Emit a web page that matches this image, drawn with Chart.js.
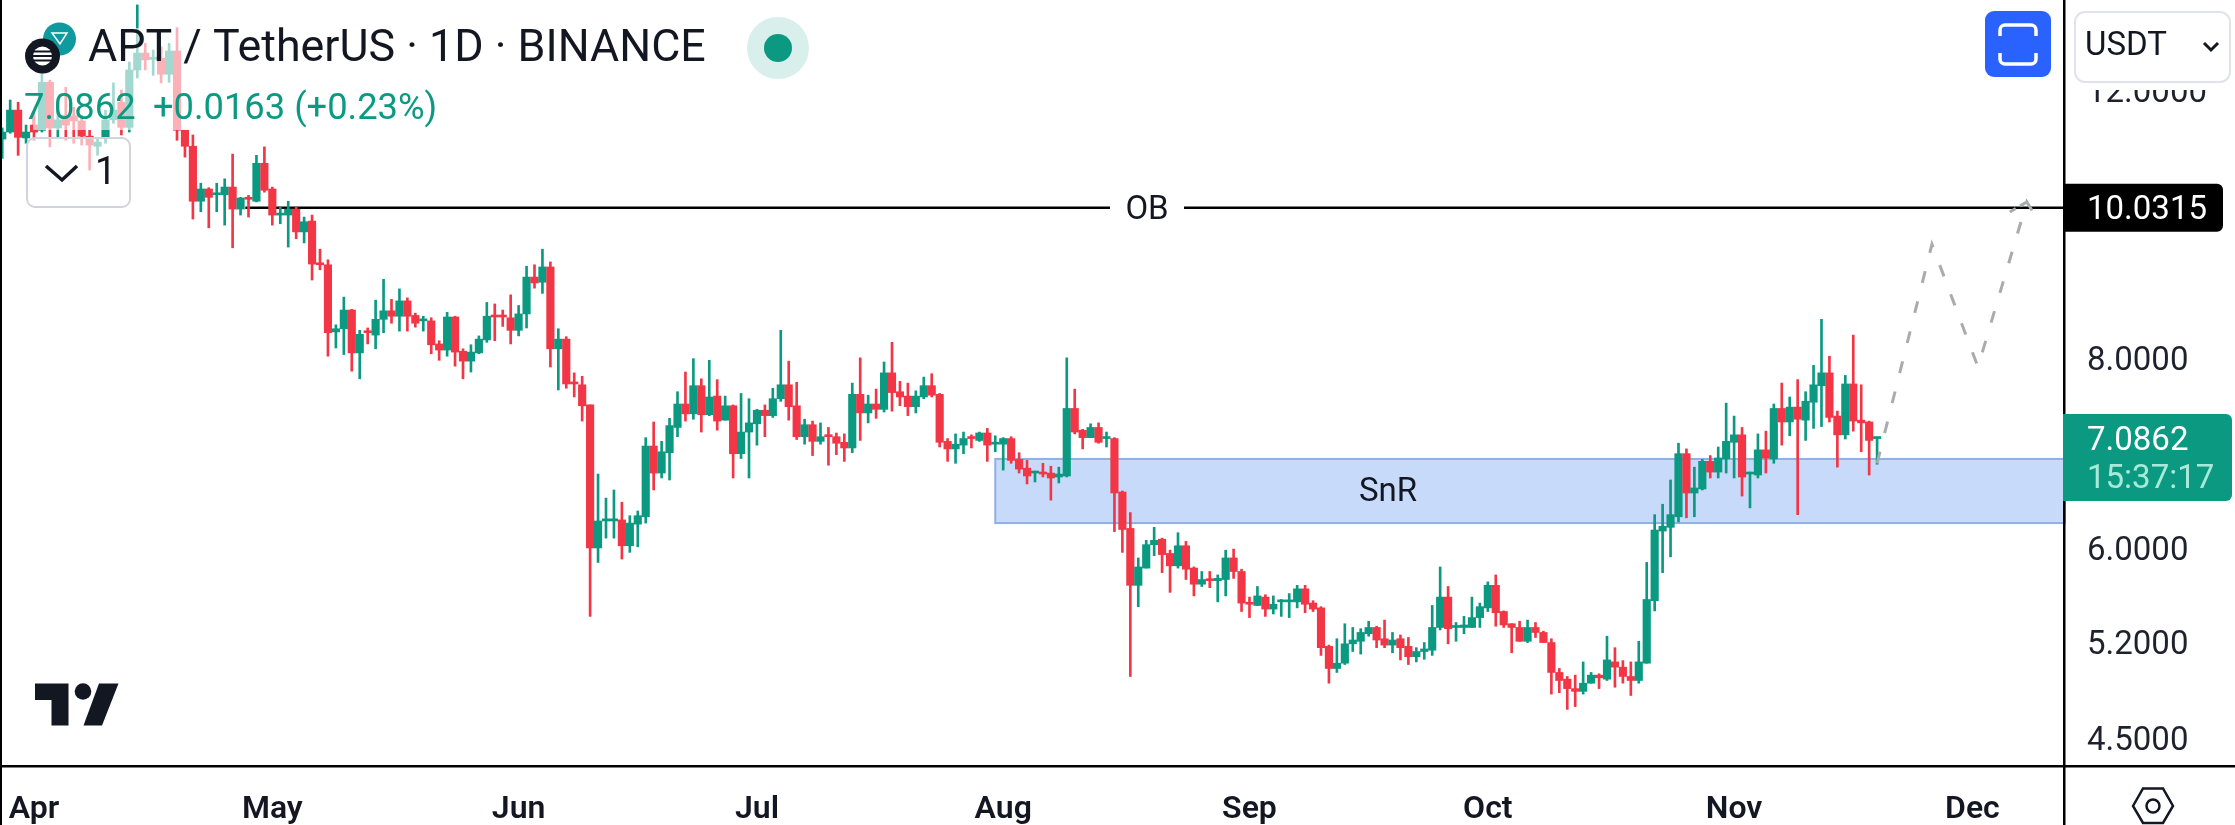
<!DOCTYPE html>
<html><head><meta charset="utf-8">
<style>html,body{margin:0;padding:0;background:#fff;overflow:hidden}canvas{display:block}</style>
<script src="https://cdn.jsdelivr.net/npm/chart.js@4/dist/chart.umd.min.js"></script>
</head><body><canvas id="c" width="2235" height="825"></canvas>
<script>
const firstDay=-4; // days relative to 1 Apr
const opens=[
11.13,11.25,11.63,11.15,11.37,11.28,12.13,11.32,11.54,11.53,
11.44,11.18,11.01,11.16,11.46,11.77,11.33,12.36,12.68,12.56,
12.58,12.28,12.72,11.28,11.01,10.13,10.32,10.23,10.23,10.35,
10.01,10.19,10.13,10.73,10.32,9.92,9.92,10.01,9.67,9.83,
9.22,9.20,8.31,8.35,8.59,8.05,8.31,8.27,8.47,8.58,
8.51,8.71,8.52,8.45,8.45,8.16,8.085,8.50,8.07,7.95,
8.05,8.21,8.52,8.51,8.49,8.33,8.54,9.03,8.96,9.17,
8.10,8.22,7.70,7.67,7.44,5.99,6.24,6.24,6.25,6.01,
6.21,6.28,6.99,6.71,6.92,7.19,7.45,7.34,7.66,7.33,
7.54,7.27,7.43,6.91,7.14,7.23,7.38,7.32,7.51,7.67,
7.43,7.09,7.22,7.04,7.10,7.09,7.03,6.97,7.56,7.35,
7.45,7.39,7.81,7.59,7.54,7.42,7.53,7.66,7.56,7.04,
6.96,7.00,7.08,7.05,7.13,7.01,7.01,7.07,6.85,6.76,
6.71,6.72,6.71,6.67,6.68,7.40,7.16,7.08,7.19,7.07,
7.07,6.52,6.17,5.66,5.81,6.02,6.07,5.94,5.83,6.01,
5.81,5.67,5.71,5.70,5.71,5.90,5.78,5.51,5.49,5.56,
5.46,5.52,5.52,5.52,5.63,5.51,5.47,5.16,4.99,5.03,
5.18,5.20,5.26,5.31,5.22,5.17,5.22,5.16,5.08,5.12,
5.13,5.31,5.56,5.31,5.31,5.31,5.39,5.47,5.66,5.44,
5.34,5.31,5.20,5.31,5.27,5.19,4.96,4.91,4.84,4.82,
4.88,4.94,4.91,5.04,5.00,4.93,4.90,5.03,5.53,6.145,
6.18,6.28,6.91,6.51,6.55,6.83,6.72,6.855,7.03,7.11,
6.70,6.69,6.95,6.855,7.40,7.25,7.415,7.27,7.47,7.66,
7.81,7.315,7.11,7.68,7.27,7.25,7.07];
const highs=[
11.32,11.81,11.77,11.37,11.58,12.30,12.17,11.63,12.04,11.68,
11.54,11.28,11.16,11.63,12.12,11.99,12.51,13.64,12.87,12.74,
12.80,12.87,13.17,11.28,11.20,10.41,10.34,10.41,10.48,10.88,
10.19,10.22,10.86,11.00,10.35,10.04,10.13,10.04,9.89,9.92,
9.42,9.27,8.40,8.76,8.60,8.33,8.36,8.72,9.00,8.73,
8.87,8.75,8.55,8.51,8.49,8.20,8.56,8.51,8.10,8.15,
8.26,8.69,8.67,8.59,8.79,8.65,9.18,9.20,9.42,9.24,
8.35,8.25,7.81,7.77,7.44,6.70,6.46,6.54,6.42,6.29,
6.335,7.08,7.25,7.04,7.29,7.59,7.82,7.98,7.74,7.96,
7.73,7.54,7.44,7.57,7.51,7.39,7.44,7.63,8.33,7.95,
7.70,7.28,7.26,7.24,7.19,7.13,7.12,7.69,7.99,7.55,
7.62,7.94,8.18,7.71,7.69,7.60,7.76,7.80,7.57,7.07,
7.12,7.14,7.11,7.14,7.18,7.10,7.08,7.09,6.92,6.84,
6.73,6.81,6.78,6.77,7.99,7.62,7.17,7.23,7.24,7.14,
7.08,6.53,6.32,5.90,6.06,6.18,6.08,5.97,6.13,6.05,
5.82,5.78,5.78,5.75,5.97,5.98,5.80,5.56,5.65,5.58,
5.57,5.54,5.59,5.66,5.66,5.53,5.48,5.17,5.22,5.34,
5.31,5.30,5.36,5.32,5.37,5.27,5.25,5.23,5.15,5.19,
5.49,5.82,5.65,5.35,5.40,5.56,5.51,5.69,5.75,5.445,
5.34,5.36,5.37,5.35,5.28,5.22,4.99,4.93,4.94,5.04,
4.96,4.95,5.24,5.15,5.05,5.04,5.20,5.86,6.30,6.40,
6.64,7.02,6.96,6.77,6.85,6.89,6.98,7.46,7.315,7.19,
6.72,7.12,7.15,7.45,7.69,7.53,7.73,7.59,7.90,8.47,
8.01,7.37,7.78,8.27,7.67,7.26,7.0862];
const lows=[
10.81,11.23,10.86,11.06,11.11,11.25,11.00,11.16,11.11,11.06,
11.03,10.62,10.86,11.06,11.40,11.20,11.25,12.21,12.36,12.26,
12.12,12.13,11.11,10.83,9.86,9.97,9.73,9.97,9.77,9.44,
9.92,9.89,10.12,10.27,9.77,9.79,9.45,9.57,9.51,8.99,
9.13,8.01,8.11,8.03,7.83,7.74,8.16,8.10,8.30,8.42,
8.32,8.32,8.37,8.32,8.04,7.96,8.01,7.89,7.74,7.82,
8.04,8.18,8.20,8.38,8.16,8.26,8.36,8.88,8.81,7.88,
7.61,7.63,7.53,7.26,5.40,5.86,6.08,6.08,5.89,5.95,
6.00,6.22,6.54,6.66,6.64,7.09,7.26,7.28,7.14,7.32,
7.16,7.27,6.66,6.86,6.66,7.00,7.09,7.30,7.48,7.27,
7.06,7.01,6.89,7.01,6.79,6.90,6.83,6.92,7.05,7.24,
7.29,7.36,7.37,7.43,7.32,7.35,7.51,7.53,6.98,6.83,
6.81,6.91,6.97,7.04,6.83,6.93,6.74,6.81,6.71,6.60,
6.62,6.67,6.44,6.61,6.67,7.12,6.96,7.08,7.02,6.98,
6.14,5.95,4.93,5.48,5.81,5.92,5.77,5.60,5.81,5.71,
5.57,5.65,5.64,5.52,5.57,5.72,5.44,5.39,5.49,5.40,
5.42,5.40,5.39,5.47,5.43,5.44,5.09,4.88,4.96,5.02,
5.12,5.10,5.24,5.15,5.15,5.11,5.055,5.02,5.04,5.06,
5.09,5.29,5.18,5.20,5.26,5.31,5.31,5.44,5.32,5.31,
5.11,5.20,5.19,5.23,5.19,4.80,4.81,4.69,4.71,4.80,
4.88,4.84,4.90,4.85,4.88,4.79,4.88,5.03,5.445,5.77,
5.91,6.23,6.27,6.28,6.54,6.66,6.66,6.71,6.66,6.48,
6.365,6.66,6.71,6.81,7.00,7.10,6.30,7.05,7.18,7.20,
7.25,6.77,7.065,7.15,6.93,6.69,6.80];
const closes=[
11.25,11.63,11.16,11.25,11.25,12.13,11.32,11.46,11.37,11.44,
11.18,11.03,11.08,11.46,11.63,11.33,12.36,12.68,12.55,12.60,
12.28,12.72,11.28,11.01,10.13,10.32,10.19,10.24,10.35,10.01,
10.18,10.16,10.73,10.30,9.92,9.93,10.01,9.67,9.82,9.21,
9.20,8.30,8.35,8.59,8.05,8.28,8.30,8.47,8.58,8.51,
8.71,8.51,8.42,8.46,8.15,8.085,8.50,8.06,7.95,8.06,
8.22,8.51,8.50,8.50,8.33,8.54,9.03,8.95,9.17,8.10,
8.22,7.68,7.68,7.43,5.99,6.24,6.26,6.26,6.01,6.22,
6.29,6.99,6.71,6.93,7.21,7.45,7.34,7.66,7.33,7.53,
7.26,7.43,6.91,7.14,7.24,7.38,7.32,7.51,7.67,7.42,
7.09,7.22,7.04,7.09,7.09,7.02,6.97,7.56,7.35,7.45,
7.39,7.81,7.58,7.53,7.42,7.54,7.66,7.55,7.03,6.96,
7.01,7.07,7.07,7.13,7.00,7.03,7.07,6.84,6.75,6.68,
6.72,6.70,6.66,6.70,7.40,7.14,7.08,7.19,7.03,7.08,
6.51,6.16,5.66,5.82,6.02,6.06,5.93,5.83,6.01,5.80,
5.67,5.71,5.70,5.72,5.90,5.78,5.51,5.50,5.57,5.46,
5.50,5.53,5.53,5.63,5.50,5.46,5.15,4.99,5.03,5.18,
5.21,5.27,5.31,5.21,5.17,5.21,5.15,5.08,5.12,5.14,
5.31,5.56,5.30,5.32,5.33,5.39,5.48,5.66,5.43,5.33,
5.31,5.20,5.31,5.27,5.19,4.96,4.90,4.84,4.82,4.88,
4.94,4.92,5.055,5.00,4.93,4.90,5.04,5.54,6.155,6.19,
6.30,6.91,6.51,6.56,6.83,6.72,6.865,7.04,7.11,6.67,
6.71,6.95,6.865,7.40,7.25,7.415,7.28,7.48,7.67,7.81,
7.30,7.11,7.68,7.26,7.24,7.05,7.0862];
const monthDays=[0,30,61,91,122,153,183,214,244];
const monthLabels=['Apr','May','Jun','Jul','Aug','Sep','Oct','Nov','Dec'];
const priceTicks=[12,8,6,5.2,4.5];
const obPrice=10.0315, lastPrice=7.0862;
const obStartDay=26.6, obLabelDay=140.1;
const snrTop=6.855, snrBottom=6.22, snrStartDay=121;
const pathDays=[232,238.9,244.7,250.85,252.1];
const pathPrices=[6.81,9.49,7.88,10.12,9.875];
const headDays=[248.7,250.85];
const headPrices=[9.965,10.12];

const UP='#0b9981', DOWN='#f23645', INK='#131722', DASH='#aaabaf';
const bodies=opens.map((o,i)=>({x:i+firstDay,y:[o,closes[i]]}));
const wicks=lows.map((l,i)=>({x:i+firstDay,y:[l,highs[i]]}));
const colors=opens.map((o,i)=>closes[i]>=o?UP:DOWN);
const F='Roboto, sans-serif';

function rr(ctx,x,y,w,h,r){ctx.beginPath();ctx.roundRect(x,y,w,h,r);}
const deco={id:'deco',
 beforeDatasetsDraw(ch){
  const {ctx,scales:{x,y},chartArea:a}=ch;ctx.save();
  const l=x.getPixelForValue(snrStartDay),t=y.getPixelForValue(snrTop),b=y.getPixelForValue(snrBottom);
  ctx.fillStyle='#c8dafa';ctx.fillRect(l,t,a.right-l,b-t);
  ctx.strokeStyle='#8fb0e2';ctx.lineWidth=2;ctx.strokeRect(l,t,a.right-l+2,b-t);
  ctx.restore();
 },
 beforeDraw(ch){
  ch.scales.y.getLabelItems().forEach(it=>{if(!it._moved){it.options.translation[1]+=4.8;it._moved=true;}});
 },
 afterDatasetsDraw(ch){
  const {ctx,scales:{x,y},chartArea:a}=ch;ctx.save();
  const ly=y.getPixelForValue(obPrice),lx=x.getPixelForValue(obLabelDay);
  ctx.fillStyle='#fff';ctx.fillRect(lx-37,ly-16,74,32);
  ctx.fillStyle=INK;ctx.textAlign='center';ctx.textBaseline='middle';ctx.font='33px '+F;
  ctx.fillText('OB',lx,ly+3);
  const my=(y.getPixelForValue(snrTop)+y.getPixelForValue(snrBottom))/2;
  ctx.fillText('SnR',1388,my+2);
  ctx.fillStyle='rgba(255,255,255,0.62)';
  ctx.fillRect(33,28,420,102);
  rr(ctx,27,138,103,69,8);ctx.fill();
  ctx.restore();
 },
 afterDraw(ch){
  const {ctx,scales:{y},chartArea:a}=ch;ctx.save();
  ctx.fillStyle='#fff';ctx.fillRect(a.right,0,2235-a.right,90);
  ctx.fillStyle='#000';
  ctx.fillRect(0,0,2,825);
  ctx.fillRect(a.right,0,2.5,825);
  ctx.fillRect(0,a.bottom,2235,2.5);
  ctx.textBaseline='middle';ctx.textAlign='left';
  ctx.fillStyle='#0f9aa0';ctx.beginPath();ctx.arc(59.5,39,16.5,0,7);ctx.fill();
  ctx.strokeStyle='#fff';ctx.lineWidth=1.5;
  ctx.beginPath();ctx.moveTo(52,33);ctx.lineTo(67,33);ctx.lineTo(60,44);ctx.closePath();ctx.stroke();
  ctx.fillStyle='#131722';ctx.beginPath();ctx.arc(42.5,56,17.5,0,7);ctx.fill();
  ctx.fillStyle='#fff';ctx.beginPath();ctx.arc(42.5,56,9.5,0,7);ctx.fill();
  ctx.fillStyle='#131722';[51.5,56,60.5].forEach(v=>ctx.fillRect(31,v-1,23,2));
  ctx.fillStyle=INK;ctx.font='44.8px '+F;
  ctx.fillText('APT / TetherUS · 1D · BINANCE',88,50);
  ctx.fillStyle='#d8efeb';ctx.beginPath();ctx.arc(778,48,31,0,7);ctx.fill();
  ctx.fillStyle=UP;ctx.beginPath();ctx.arc(778,48,14,0,7);ctx.fill();
  ctx.fillStyle=UP;ctx.font='36.3px '+F;
  ctx.fillText('7.0862',24,110);
  ctx.fillText('+0.0163 (+0.23%)',153,110);
  ctx.strokeStyle='#d1d4dc';ctx.lineWidth=2;rr(ctx,27,138,103,69,8);ctx.stroke();
  ctx.strokeStyle=INK;ctx.lineWidth=3.5;ctx.beginPath();ctx.moveTo(46,166);ctx.lineTo(62,180);ctx.lineTo(77,166);ctx.stroke();
  ctx.fillStyle=INK;ctx.font='38px '+F;ctx.fillText('1',95,174);
  ctx.fillStyle='#2962ff';rr(ctx,1985,11,66,66,9);ctx.fill();
  ctx.strokeStyle='#fff';ctx.lineWidth=3.5;
  ctx.beginPath();ctx.moveTo(2000,36);ctx.lineTo(2000,30);ctx.arcTo(2000,25,2005,25,5);ctx.lineTo(2031,25);ctx.arcTo(2036,25,2036,30,5);ctx.lineTo(2036,36);ctx.stroke();
  ctx.beginPath();ctx.moveTo(2000,53);ctx.lineTo(2000,59);ctx.arcTo(2000,64,2005,64,5);ctx.lineTo(2031,64);ctx.arcTo(2036,64,2036,59,5);ctx.lineTo(2036,53);ctx.stroke();
  ctx.fillStyle='#fff';ctx.strokeStyle='#e0e3eb';ctx.lineWidth=2;rr(ctx,2075,12,155,70,10);ctx.fill();ctx.stroke();
  ctx.fillStyle=INK;ctx.font='33px '+F;ctx.fillText('USDT',2085,47);
  ctx.strokeStyle=INK;ctx.lineWidth=3;ctx.beginPath();ctx.moveTo(2204,43);ctx.lineTo(2211,50);ctx.lineTo(2218,43);ctx.stroke();
  const oy=y.getPixelForValue(obPrice);
  ctx.fillStyle='#000';rr(ctx,a.right+2,oy-24,158,48,[0,6,6,0]);ctx.fill();
  ctx.fillStyle='#fff';ctx.fillText(obPrice.toFixed(4),2087,oy+3);
  const py=y.getPixelForValue(lastPrice);
  ctx.fillStyle=UP;rr(ctx,a.right,py-23,169,87,[0,6,6,0]);ctx.fill();
  ctx.fillStyle='#fff';ctx.fillText(lastPrice.toFixed(4),2087,py+5);
  ctx.fillStyle='#a8ead9';ctx.fillText('15:37:17',2087,py+43);
  ctx.fillStyle=INK;
  ctx.beginPath();ctx.moveTo(35,683.5);ctx.lineTo(68.5,683.5);ctx.lineTo(68.5,725.5);ctx.lineTo(51.5,725.5);ctx.lineTo(51.5,700);ctx.lineTo(35,700);ctx.closePath();ctx.fill();
  ctx.beginPath();ctx.arc(83,691.5,8.3,0,7);ctx.fill();
  ctx.beginPath();ctx.moveTo(99,683.5);ctx.lineTo(118.5,683.5);ctx.lineTo(102,725.5);ctx.lineTo(83.5,725.5);ctx.closePath();ctx.fill();
  ctx.strokeStyle=INK;ctx.lineWidth=2.5;ctx.beginPath();
  [[2133,806],[2143,788.5],[2163,788.5],[2173,806],[2163,823],[2143,823]].forEach((p,i)=>i?ctx.lineTo(p[0],p[1]):ctx.moveTo(p[0],p[1]));
  ctx.closePath();ctx.stroke();
  ctx.beginPath();ctx.arc(2153,806,6.5,0,7);ctx.stroke();
  ctx.restore();
 }};

new Chart(document.getElementById('c'),{
 data:{datasets:[
  {type:'line',order:1,data:pathDays.map((d,i)=>({x:d,y:pathPrices[i]})),borderColor:DASH,borderWidth:3,borderDash:[12,19],pointRadius:0,tension:0,clip:false},
  {type:'line',order:1,data:headDays.map((d,i)=>({x:d,y:headPrices[i]})),borderColor:DASH,borderWidth:3,borderDash:[7,5],pointRadius:0,tension:0},
  {type:'bar',order:2,data:bodies,backgroundColor:colors,barThickness:7.5,minBarLength:2,grouped:false},
  {type:'bar',order:3,data:wicks,backgroundColor:colors,barThickness:2,grouped:false},
  {type:'line',order:5,data:[{x:obStartDay,y:obPrice},{x:256,y:obPrice}],borderColor:'#000',borderWidth:2.5,pointRadius:0}
 ]},
 options:{
  responsive:false,animation:false,
  layout:{padding:0},
  plugins:{legend:{display:false},tooltip:{enabled:false}},
  scales:{
   x:{type:'linear',position:'bottom',min:-4.28,max:255.4,offset:false,
    grid:{display:false},border:{display:false},
    afterBuildTicks(s){s.ticks=monthDays.map(v=>({value:v}));},
    afterFit(s){s.height=60;s.paddingLeft=0;s.paddingRight=0;},
    ticks:{autoSkip:false,maxRotation:0,minRotation:0,padding:18,color:INK,
     font:{family:'Roboto',size:32,weight:'600'},
     callback(v,i){return monthLabels[i];}}},
   y:{type:'logarithmic',position:'right',min:4.311,max:13.742,
    grid:{display:false},border:{display:false},
    afterBuildTicks(s){s.ticks=priceTicks.map(v=>({value:v}));},
    afterFit(s){s.width=172;s.paddingTop=0;s.paddingBottom=0;},
    ticks:{autoSkip:false,padding:16,color:'#1e222d',crossAlign:'near',
     font:{family:'Roboto',size:33},
     callback(v){return Number(v).toFixed(4);}}}
  }
 },
 plugins:[deco]
});
</script></body></html>
